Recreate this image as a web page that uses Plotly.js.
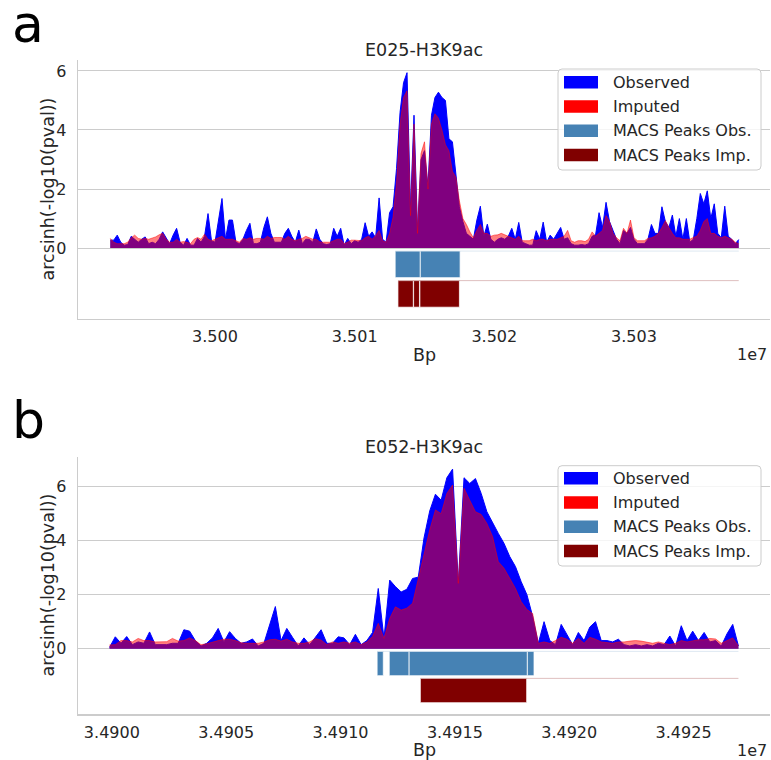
<!DOCTYPE html>
<html>
<head>
<meta charset="utf-8">
<script src="https://cdn.plot.ly/plotly-3.0.1.min.js"></script>
<style>html,body{margin:0;padding:0;background:#fff;}#chart{width:771px;height:760px;}</style>
</head>
<body>
<div id="chart"></div>
<script>
// ---------- DATA ----------
// Panel a: E025-H3K9ac, 25 bp bins starting at 34,999,250
const topStart = 34999250;
const topBin = 25;
const topObs = [
0.27,0.27,0.44,0.2,0.1,0.12,0.4,0.3,0.2,0.3,
0.38,0.15,0.2,0.15,0.3,0.55,0.35,0.15,0.44,0.67,
0.2,0.1,0.33,0.1,0.1,0.33,0.2,0.4,1.17,0.25,
0.2,0.9,1.68,0.3,0.95,0.95,0.2,0.15,0.3,0.6,
0.84,0.15,0.15,0.2,0.7,1.06,0.5,0.2,0.2,0.2,
0.5,0.67,0.4,0.2,0.61,0.15,0.3,0.3,0.2,0.65,
0.3,0.15,0.12,0.15,0.67,0.4,0.67,0.1,0.33,0.15,
0.25,0.2,0.3,0.86,0.4,0.55,0.35,1.7,0.3,0.2,
1.2,1.4,2.7,4.6,5.6,5.94,1.3,4.5,0.6,3.0,
3.3,2.1,4.5,5.1,5.28,5.1,5.0,3.7,3.6,2.5,
1.4,0.9,0.5,0.4,0.3,0.95,1.42,0.4,0.81,0.3,
0.2,0.3,0.35,0.3,0.4,0.67,0.3,0.87,0.2,0.15,
0.1,0.1,0.59,0.3,0.88,0.2,0.44,0.3,0.5,0.7,
0.3,0.35,0.15,0.1,0.1,0.12,0.1,0.15,0.4,0.45,
1.2,0.7,1.55,0.9,0.6,0.3,0.15,0.6,0.5,0.7,
0.3,0.15,0.15,0.15,0.3,0.8,0.5,0.5,1.4,0.9,
0.7,1.12,0.4,1.0,0.3,1.0,0.2,0.3,1.0,1.85,
1.5,1.94,1.0,1.5,0.5,0.35,1.42,0.4,0.3,0.15,0.29
];
const topImp = [
0.33,0.2,0.15,0.15,0.15,0.2,0.35,0.44,0.33,0.3,
0.33,0.3,0.33,0.38,0.45,0.5,0.3,0.2,0.2,0.3,
0.2,0.22,0.2,0.15,0.3,0.36,0.3,0.47,0.3,0.25,
0.3,0.36,0.4,0.3,0.3,0.3,0.25,0.2,0.33,0.3,
0.35,0.3,0.33,0.33,0.3,0.4,0.33,0.36,0.36,0.36,
0.3,0.4,0.3,0.25,0.3,0.33,0.4,0.36,0.3,0.3,
0.21,0.2,0.2,0.2,0.25,0.3,0.3,0.15,0.2,0.27,
0.27,0.27,0.25,0.35,0.4,0.3,0.42,0.6,0.25,0.2,
0.5,1.05,2.2,4.2,5.1,5.33,1.1,4.2,0.5,3.2,
3.6,2.0,4.2,4.55,4.4,4.0,3.5,3.3,2.6,2.4,
1.6,1.0,0.8,0.55,0.35,0.6,0.8,0.5,0.5,0.4,
0.44,0.45,0.5,0.45,0.4,0.35,0.3,0.4,0.25,0.25,
0.25,0.3,0.25,0.3,0.3,0.25,0.3,0.3,0.3,0.35,
0.4,0.6,0.25,0.2,0.25,0.25,0.22,0.3,0.55,0.4,
0.5,0.6,1.1,0.9,0.5,0.35,0.25,0.67,0.5,0.95,
0.35,0.25,0.25,0.25,0.33,0.35,0.4,0.5,0.7,0.93,
0.7,0.5,0.35,0.35,0.3,0.3,0.3,0.36,0.4,0.6,
0.9,1.0,0.5,0.5,0.4,0.35,0.4,0.35,0.3,0.2,0.15
];
const topPeaksObsStart = [35001290, 35001470];
const topPeaksObsEnd   = [35001470, 35001755];
const topPeaksImpStart = [35001310, 35001422, 35001467];
const topPeaksImpEnd   = [35001420, 35001464, 35001750];
const topTickVals = [35000000, 35001000, 35002000, 35003000];
const topTickText = ["3.500", "3.501", "3.502", "3.503"];

// Panel b: E052-H3K9ac, 25 bp bins starting at 34,899,990
const botStart = 34899990;
const botBin = 25;
const botObs = [
0.05,0.44,0.2,0.45,0.15,0.25,0.2,0.62,0.15,0.15,
0.15,0.2,0.2,0.7,0.65,0.3,0.1,0.2,0.4,0.75,
0.25,0.63,0.38,0.2,0.25,0.36,0.1,0.2,0.9,1.56,
0.3,0.75,0.42,0.1,0.4,0.15,0.42,0.7,0.2,0.2,
0.44,0.4,0.15,0.53,0.15,0.3,0.6,2.23,0.38,2.54,
2.3,2.1,2.2,2.6,2.65,4.1,5.1,5.72,5.5,6.33,
6.65,2.42,6.33,6.12,6.3,5.75,5.07,4.64,4.27,3.9,
3.41,3.04,2.48,2.0,1.2,0.2,1.0,0.3,0.15,0.9,
0.5,0.15,0.6,0.3,0.8,1.0,0.3,0.3,0.25,0.35,
0.15,0.1,0.15,0.1,0.15,0.1,0.2,0.15,0.47,0.1,
0.85,0.3,0.65,0.3,0.6,0.25,0.3,0.1,0.55,0.9,0.1
];
const botImp = [
0.14,0.15,0.3,0.3,0.25,0.38,0.3,0.3,0.25,0.26,
0.26,0.38,0.28,0.3,0.4,0.3,0.15,0.18,0.25,0.3,
0.35,0.35,0.3,0.22,0.2,0.2,0.2,0.25,0.33,0.35,
0.28,0.35,0.25,0.2,0.2,0.25,0.37,0.32,0.15,0.25,
0.2,0.25,0.2,0.25,0.15,0.25,0.45,0.94,0.38,1.12,
1.55,1.43,1.5,1.68,2.6,3.4,4.4,5.14,5.0,5.75,
6.06,2.42,5.94,5.5,5.07,4.97,4.64,4.15,3.22,2.98,
2.6,2.23,1.74,1.45,1.3,0.2,0.25,0.2,0.3,0.42,
0.35,0.2,0.38,0.2,0.42,0.35,0.25,0.22,0.2,0.25,
0.25,0.28,0.3,0.28,0.25,0.2,0.25,0.2,0.15,0.2,
0.3,0.25,0.3,0.33,0.33,0.38,0.36,0.2,0.3,0.4,0.1
];
const botPeaksObsStart = [34901160, 34901213, 34901300, 34901817];
const botPeaksObsEnd   = [34901187, 34901300, 34901817, 34901846];
const botPeaksImpStart = [34901349];
const botPeaksImpEnd   = [34901814];
const botTickVals = [34900000, 34900500, 34901000, 34901500, 34902000, 34902500];
const botTickText = ["3.4900", "3.4905", "3.4910", "3.4915", "3.4920", "3.4925"];

const panelTitles = ["E025-H3K9ac", "E052-H3K9ac"];
const panelLetters = ["a", "b"];
const legendLabels = ["Observed", "Imputed", "MACS Peaks Obs.", "MACS Peaks Imp."];
const legendColors = ["#0000ff", "#ff0000", "#4682b4", "#800000"];

// ---------- BUILD ----------
const W = 771, H = 760, L = 78, PW = 692;
const px = x => (x - L) / PW;
const py = y => 1 - y / H;
const FONT = "DejaVu Sans, Liberation Sans, sans-serif";
const TXT = "#262626";

function positions(start, bin, n) { const a = []; for (let i = 0; i < n; i++) a.push(start + i * bin); return a; }

function panelTraces(start, bin, obs, imp, oS, oE, iS, iE, xa, ya) {
  const xs = positions(start, bin, obs.length);
  const dataEnd = xs[xs.length - 1];
  const tr = [];
  tr.push({x: xs, y: obs, type: 'scatter', mode: 'lines', fill: 'tozeroy',
    fillcolor: '#0000ff', line: {color: '#0000ff', width: 1}, xaxis: xa, yaxis: ya, hoverinfo: 'skip'});
  tr.push({x: xs, y: imp, type: 'scatter', mode: 'lines', fill: 'tozeroy',
    fillcolor: 'rgba(255,0,0,0.5)', line: {color: 'rgba(255,0,0,0.5)', width: 1}, xaxis: xa, yaxis: ya, hoverinfo: 'skip'});
  // faint baselines of the peak tracks
  tr.push({x: [oS[0], dataEnd], y: [-0.1, -0.1], type: 'scatter', mode: 'lines',
    line: {color: 'rgba(70,130,180,0.18)', width: 1}, xaxis: xa, yaxis: ya, hoverinfo: 'skip'});
  tr.push({x: [iS[0], dataEnd], y: [-1.1, -1.1], type: 'scatter', mode: 'lines',
    line: {color: 'rgba(128,0,0,0.25)', width: 1}, xaxis: xa, yaxis: ya, hoverinfo: 'skip'});
  tr.push({type: 'bar', x: oS.map((s, k) => (s + oE[k]) / 2), width: oS.map((s, k) => oE[k] - s),
    y: oS.map(() => 0.9), base: -1.0, marker: {color: '#4682b4', line: {color: 'rgba(255,255,255,0.75)', width: 1}},
    xaxis: xa, yaxis: ya, hoverinfo: 'skip'});
  tr.push({type: 'bar', x: iS.map((s, k) => (s + iE[k]) / 2), width: iS.map((s, k) => iE[k] - s),
    y: iS.map(() => 0.9), base: -2.0, marker: {color: '#800000', line: {color: 'rgba(255,255,255,0.75)', width: 1}},
    xaxis: xa, yaxis: ya, hoverinfo: 'skip'});
  return tr;
}

const traces = [].concat(
  panelTraces(topStart, topBin, topObs, topImp, topPeaksObsStart, topPeaksObsEnd, topPeaksImpStart, topPeaksImpEnd, 'x', 'y'),
  panelTraces(botStart, botBin, botObs, botImp, botPeaksObsStart, botPeaksObsEnd, botPeaksImpStart, botPeaksImpEnd, 'x2', 'y2')
);

function xaxisCfg(range, tv, tt, anchor) {
  return {domain: [0, 1], anchor: anchor, range: range, tickmode: 'array', tickvals: tv, ticktext: tt,
    showgrid: false, zeroline: false, showline: true, linecolor: '#cccccc', linewidth: 1.25,
    ticks: 'outside', ticklen: 3, tickcolor: 'rgba(0,0,0,0)',
    tickfont: {family: FONT, size: 16, color: TXT}, fixedrange: true};
}
function yaxisCfg(range, domain, anchor) {
  return {domain: domain, anchor: anchor, range: range, tickmode: 'array', tickvals: [0, 2, 4, 6],
    ticktext: ['0', '2', '4', '6'], showgrid: true, gridcolor: '#cccccc', gridwidth: 1,
    zeroline: false, showline: true, linecolor: '#cccccc', linewidth: 1.25,
    ticks: 'outside', ticklen: 7, tickcolor: 'rgba(0,0,0,0)',
    tickfont: {family: FONT, size: 16, color: TXT}, fixedrange: true};
}

// panel geometry in pixels
const panels = [
  {top: 60, bottom: 319, legTop: 69, legBot: 170, rows: [82.3, 106.5, 130.7, 155], title: 50, letter: 24, bp: 355},
  {top: 456.7, bottom: 714.3, legTop: 465.7, legBot: 566, rows: [478.3, 502.5, 526.7, 551], title: 447, letter: 420, bp: 750}
];

const shapes = [], annotations = [];
function rounded(x0, y0, x1, y1, r) {
  return `M ${px(x0 + r)},${py(y0)} L ${px(x1 - r)},${py(y0)} Q ${px(x1)},${py(y0)} ${px(x1)},${py(y0 + r)} ` +
    `L ${px(x1)},${py(y1 - r)} Q ${px(x1)},${py(y1)} ${px(x1 - r)},${py(y1)} L ${px(x0 + r)},${py(y1)} ` +
    `Q ${px(x0)},${py(y1)} ${px(x0)},${py(y1 - r)} L ${px(x0)},${py(y0 + r)} Q ${px(x0)},${py(y0)} ${px(x0 + r)},${py(y0)} Z`;
}
panels.forEach((p, k) => {
  shapes.push({type: 'path', xref: 'paper', yref: 'paper', path: rounded(558, p.legTop, 761, p.legBot, 4),
    fillcolor: 'rgba(255,255,255,0.8)', line: {color: '#cccccc', width: 1}});
  legendLabels.forEach((lab, j) => {
    const yc = p.rows[j];
    shapes.push({type: 'rect', xref: 'paper', yref: 'paper', x0: px(564), x1: px(598), y0: py(yc + 6.3), y1: py(yc - 6.3),
      fillcolor: legendColors[j], line: {width: 0}});
    annotations.push({xref: 'paper', yref: 'paper', x: px(611), y: py(yc), xanchor: 'left', yanchor: 'middle',
      text: lab, showarrow: false, font: {family: FONT, size: 16, color: TXT}});
  });
  annotations.push({xref: 'paper', yref: 'paper', x: px(424), y: py(p.title), xanchor: 'center', yanchor: 'middle',
    text: panelTitles[k], showarrow: false, font: {family: FONT, size: 17.5, color: TXT}});
  annotations.push({xref: 'paper', yref: 'paper', x: px(10), y: py(p.letter), xanchor: 'left', yanchor: 'middle',
    text: panelLetters[k], showarrow: false, font: {family: FONT, size: 52, color: '#000000'}});
  annotations.push({xref: 'paper', yref: 'paper', x: px(424), y: py(p.bp), xanchor: 'center', yanchor: 'middle',
    text: 'Bp', showarrow: false, font: {family: FONT, size: 17.5, color: TXT}});
  annotations.push({xref: 'paper', yref: 'paper', x: px(769), y: py(p.bp), xanchor: 'right', yanchor: 'middle',
    text: '1e7', showarrow: false, font: {family: FONT, size: 16, color: TXT}});
  annotations.push({xref: 'paper', yref: 'paper', x: px(47), y: py((p.top + p.bottom) / 2), xanchor: 'center', yanchor: 'middle',
    text: 'arcsinh(-log10(pval))', textangle: -90, showarrow: false, font: {family: FONT, size: 17.5, color: TXT}});
});

const layout = {
  width: W, height: H, margin: {l: L, r: W - L - PW, t: 0, b: 0},
  paper_bgcolor: '#ffffff', plot_bgcolor: '#ffffff', showlegend: false, barmode: 'overlay',
  font: {family: FONT, color: TXT},
  xaxis: xaxisCfg([34999019, 35003974], topTickVals, topTickText, 'y'),
  yaxis: yaxisCfg([-2.4, 6.37], [py(319), py(60)], 'x'),
  xaxis2: xaxisCfg([34899852, 34902878], botTickVals, botTickText, 'y2'),
  yaxis2: yaxisCfg([-2.43, 7.11], [py(714.3), py(456.7)], 'x2'),
  shapes: shapes, annotations: annotations
};

Plotly.newPlot('chart', traces, layout, {staticPlot: true, displayModeBar: false});
</script>
</body>
</html>
